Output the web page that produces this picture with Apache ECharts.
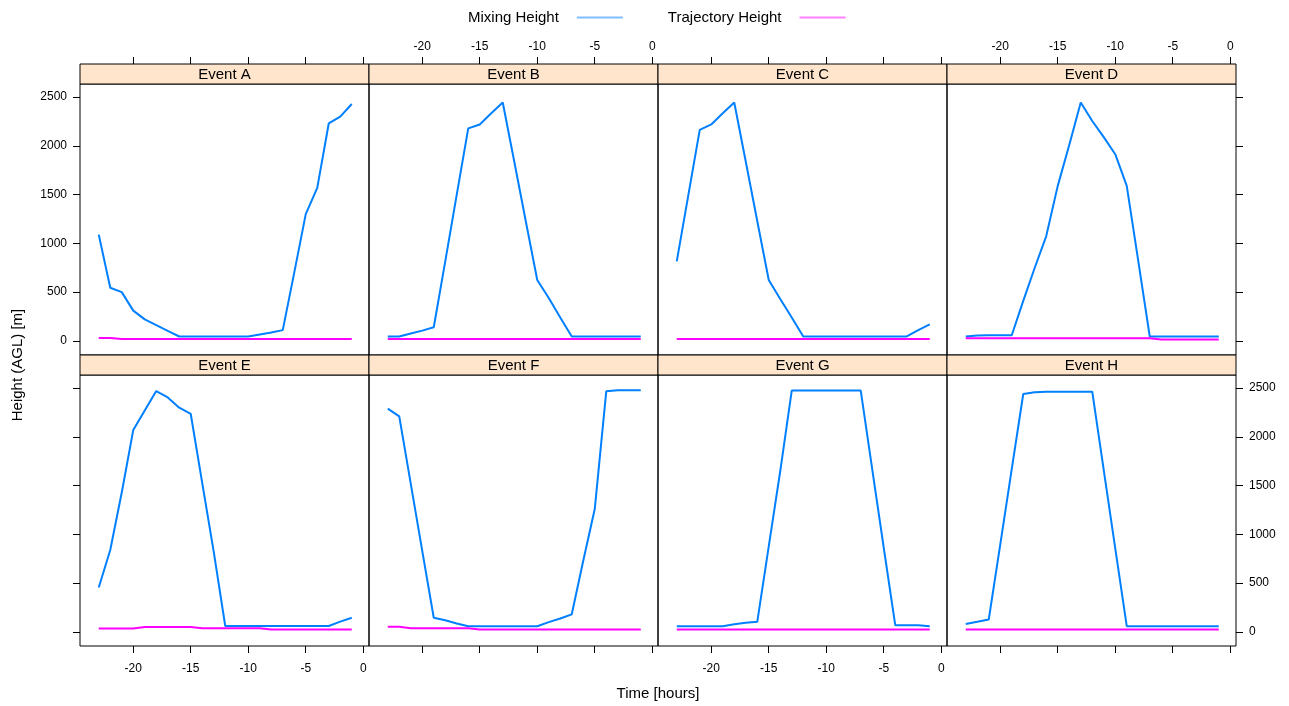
<!DOCTYPE html>
<html>
<head>
<meta charset="utf-8">
<script src="https://cdn.jsdelivr.net/npm/echarts@6/dist/echarts.min.js"></script>
<style>
html,body{margin:0;padding:0;background:#fff;}
#chart{width:1289px;height:706px;}
</style>
</head>
<body>
<div id="chart"></div>
<script>
// ---- data ----
const hours = [-23,-22,-21,-20,-19,-18,-17,-16,-15,-14,-13,-12,-11,-10,-9,-8,-7,-6,-5,-4,-3,-2,-1];
const eventNames = ['Event A','Event B','Event C','Event D','Event E','Event F','Event G','Event H'];
const xTicks = [-20,-15,-10,-5,0];
const yTicks = [0,500,1000,1500,2000,2500];

const mixA = [1090,545,500,310,220,162,103,45,45,45,45,45,45,45,65,85,110,700,1300,1570,2230,2300,2430];
const mixB = [45,45,75,105,140,815,1500,2180,2220,2335,2445,1840,1230,625,440,240,45,45,45,45,45,45,45];
const mixC = [815,1490,2165,2220,2335,2445,1840,1230,625,430,240,45,45,45,45,45,45,45,45,45,45,110,170];
const mixD = [45,55,58,58,58,410,750,1075,1590,2010,2445,2255,2090,1915,1590,820,45,45,45,45,45,45,45];
const mixE = [455,840,1430,2070,2270,2470,2405,2300,2235,1525,820,60,60,60,60,60,60,60,60,60,60,105,145];
const mixF = [2290,2210,1520,830,145,120,85,58,58,58,58,58,58,58,100,137,180,730,1260,2468,2478,2478,2478];
const mixG = [58,58,58,58,58,79,93,103,876,1650,2475,2475,2475,2475,2475,2475,2475,1667,863,69,69,69,58];
const mixH = [80,103,127,895,1670,2440,2457,2464,2464,2464,2464,2464,1660,856,58,58,58,58,58,58,58,58,58];

const trajA = [30,30,18,18,18,18,18,18,18,18,18,18,18,18,18,18,18,18,18,18,18,18,18];
const trajB = [18,18,18,18,18,18,18,18,18,18,18,18,18,18,18,18,18,18,18,18,18,18,18];
const trajC = [18,18,18,18,18,18,18,18,18,18,18,18,18,18,18,18,18,18,18,18,18,18,18];
const trajD = [27,27,27,27,27,27,27,27,27,27,27,27,27,27,27,27,27,15,15,15,15,15,15];
const trajE = [34,34,34,34,50,50,50,50,50,38,38,38,38,38,38,24,24,24,24,24,24,24,24];
const trajF = [52,52,38,38,38,38,38,38,24,24,24,24,24,24,24,24,24,24,24,24,24,24,24];
const trajG = [24,24,24,24,24,24,24,24,24,24,24,24,24,24,24,24,24,24,24,24,24,24,24];
const trajH = [24,24,24,24,24,24,24,24,24,24,24,24,24,24,24,24,24,24,24,24,24,24,24];

const mixing = [mixA,mixB,mixC,mixD,mixE,mixF,mixG,mixH];
const trajectory = [trajA,trajB,trajC,trajD,trajE,trajF,trajG,trajH];

// ---- layout ----
const FONT = '"Liberation Sans", Arial, Helvetica, sans-serif';
const PANEL_W = 289, PANEL_H = 271, LEFT0 = 80;
const ROW_TOP = [84, 375];
const STRIP_H = 20;
const X_MIN = -24.63, X_MAX = 0.5;
const Y_MIN = -145, Y_MAX = 2635;
const BLUE = '#0080ff', MAGENTA = '#ff00ff';

const grids = [], xAxes = [], yAxes = [], series = [], graphics = [];

for (let i = 0; i < 8; i++) {
  const col = i % 4, row = Math.floor(i / 4);
  const left = LEFT0 + col * PANEL_W;
  const top = ROW_TOP[row];
  grids.push({left: left, top: top, width: PANEL_W, height: PANEL_H,
    show: true, borderColor: '#000', borderWidth: 1, backgroundColor: 'transparent'});

  const showXLabel = row === 0 ? (col % 2 === 1) : (col % 2 === 0);
  xAxes.push({
    type: 'value', gridIndex: i, min: X_MIN, max: X_MAX,
    position: row === 0 ? 'top' : 'bottom',
    offset: row === 0 ? STRIP_H : 0,
    axisLine: {show: false, onZero: false},
    splitLine: {show: false},
    axisTick: {show: true, inside: false, length: 7, customValues: xTicks, lineStyle: {color: '#000', width: 1}},
    axisLabel: {show: showXLabel, customValues: xTicks, margin: row === 0 ? 11 : 17,
      fontSize: 12, color: '#000', fontFamily: FONT, formatter: v => String(v)}
  });

  const yVisible = (col === 0 || col === 3);
  const yLabel = (row === 0 && col === 0) || (row === 1 && col === 3);
  yAxes.push({
    type: 'value', gridIndex: i, min: Y_MIN, max: Y_MAX,
    position: col === 3 ? 'right' : 'left',
    show: yVisible,
    axisLine: {show: false, onZero: false},
    splitLine: {show: false},
    axisTick: {show: yVisible, inside: false, length: 7, customValues: yTicks, lineStyle: {color: '#000', width: 1}},
    axisLabel: {show: yLabel, customValues: yTicks, margin: 13, fontSize: 12, color: '#000', fontFamily: FONT,
      formatter: v => String(v)}
  });

  series.push({
    name: 'Mixing Height', type: 'line', xAxisIndex: i, yAxisIndex: i,
    data: hours.map((h, k) => [h, mixing[i][k]]),
    symbol: 'none', lineStyle: {color: BLUE, width: 2}, itemStyle: {color: BLUE},
    animation: false, silent: true
  });
  series.push({
    name: 'Trajectory Height', type: 'line', xAxisIndex: i, yAxisIndex: i,
    data: hours.map((h, k) => [h, trajectory[i][k]]),
    symbol: 'none', lineStyle: {color: MAGENTA, width: 2}, itemStyle: {color: MAGENTA},
    animation: false, silent: true
  });

  // strip
  graphics.push({
    type: 'rect', shape: {x: left, y: top - STRIP_H, width: PANEL_W, height: STRIP_H},
    style: {fill: '#ffe5cc', stroke: '#000', lineWidth: 1}, silent: true, z: 10
  });
  graphics.push({
    type: 'text', x: left + PANEL_W / 2, y: top - STRIP_H / 2 + 1,
    style: {text: eventNames[i], fill: '#000', font: '15px ' + FONT, textAlign: 'center', textVerticalAlign: 'middle'},
    silent: true, z: 11
  });
}

graphics.push({
  type: 'text', x: 658, y: 694,
  style: {text: 'Time [hours]', fill: '#000', font: '15px ' + FONT, textAlign: 'center', textVerticalAlign: 'middle'},
  silent: true
});
graphics.push({
  type: 'text', x: 18, y: 365, rotation: Math.PI / 2,
  style: {text: 'Height (AGL) [m]', fill: '#000', font: '15px ' + FONT, textAlign: 'center', textVerticalAlign: 'middle'},
  silent: true
});

const chart = echarts.init(document.getElementById('chart'), null, {renderer: 'canvas'});
chart.setOption({
  animation: false,
  backgroundColor: '#fff',
  grid: grids,
  xAxis: xAxes,
  yAxis: yAxes,
  legend: {
    left: 463, top: 5,
    align: 'right',
    icon: 'rect',
    itemWidth: 46, itemHeight: 2, itemGap: 45,
    selectedMode: false,
    textStyle: {fontSize: 15, color: '#000', fontFamily: FONT, padding: [0, 13, 0, 0]},
    data: [
      {name: 'Mixing Height', itemStyle: {color: '#7fbfff'}},
      {name: 'Trajectory Height', itemStyle: {color: '#ff80ff'}}
    ]
  },
  graphic: graphics,
  series: series
});
</script>
</body>
</html>
